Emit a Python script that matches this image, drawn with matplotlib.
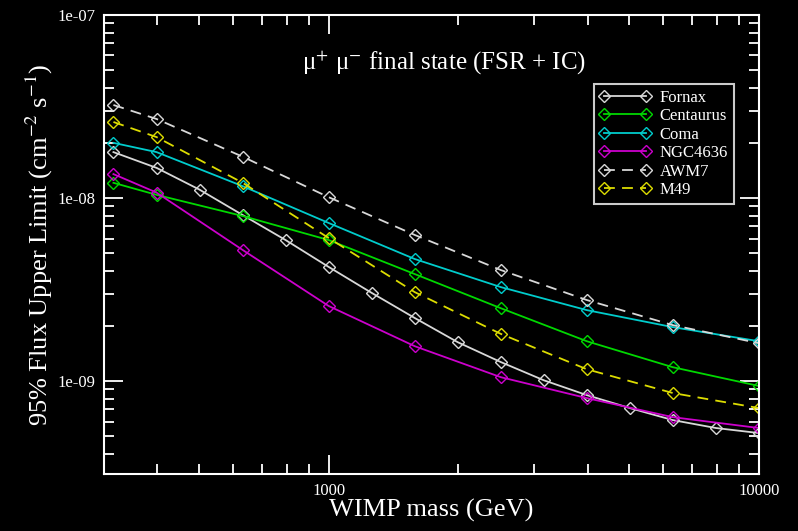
import numpy as np
import matplotlib
matplotlib.use("Agg")
import matplotlib.pyplot as plt
from matplotlib.ticker import LogLocator, NullFormatter, FixedLocator, FixedFormatter

plt.rcParams['font.family'] = ['Liberation Serif', 'DejaVu Serif']
plt.rcParams['mathtext.fontset'] = 'stix'

# WIMP masses (GeV)
mass_fine = [316, 398, 501, 631, 794, 1000, 1259, 1585, 1995, 2512,
             3162, 3981, 5012, 6310, 7943, 10000]
mass_coarse = [316, 398, 631, 1000, 1585, 2512, 3981, 6310, 10000]

# flux upper limits (cm^-2 s^-1)
fornax = [1.78e-8, 1.46e-8, 1.11e-8, 8.07e-9, 5.89e-9, 4.20e-9, 3.03e-9, 2.21e-9,
          1.63e-9, 1.27e-9, 1.01e-9, 8.38e-10, 7.12e-10, 6.12e-10, 5.54e-10, 5.20e-10]
centaurus = [1.21e-8, 1.04e-8, 7.97e-9, 5.89e-9, 3.84e-9, 2.50e-9, 1.65e-9, 1.19e-9, 9.40e-10]
coma = [2.00e-8, 1.78e-8, 1.16e-8, 7.30e-9, 4.64e-9, 3.26e-9, 2.44e-9, 1.97e-9, 1.65e-9]
ngc4636 = [1.35e-8, 1.07e-8, 5.20e-9, 2.57e-9, 1.55e-9, 1.05e-9, 8.07e-10, 6.35e-10, 5.54e-10]
awm7 = [3.22e-8, 2.70e-8, 1.68e-8, 1.01e-8, 6.28e-9, 4.04e-9, 2.77e-9, 2.02e-9, 1.61e-9]
m49 = [2.60e-8, 2.15e-8, 1.21e-8, 6.04e-9, 3.06e-9, 1.81e-9, 1.16e-9, 8.60e-10, 7.12e-10]

series = [
    ("Fornax", mass_fine, fornax, "#d8d8d8", "-"),
    ("Centaurus", mass_coarse, centaurus, "#00d800", "-"),
    ("Coma", mass_coarse, coma, "#00cccc", "-"),
    ("NGC4636", mass_coarse, ngc4636, "#cc00cc", "-"),
    ("AWM7", mass_coarse, awm7, "#d8d8d8", (0, (6, 4))),
    ("M49", mass_coarse, m49, "#dcdc00", (0, (6, 4))),
]

fig = plt.figure(figsize=(7.98, 5.31), dpi=100, facecolor="black")
ax = fig.add_axes([0.130, 0.107, 0.821, 0.865], facecolor="black")

for name, x, y, c, ls in series:
    ax.plot(x, y, color=c, linestyle=ls, lw=1.3, marker="D", ms=6,
            mfc="none", mec=c, mew=1.0, label=name)

ax.set_xscale("log")
ax.set_yscale("log")
ax.set_xlim(300, 10000)
ax.set_ylim(3.1e-10, 1e-7)

for s in ax.spines.values():
    s.set_color("white")
    s.set_linewidth(1.5)

ax.xaxis.set_major_locator(FixedLocator([1000, 10000]))
ax.xaxis.set_major_formatter(FixedFormatter(["1000", "10000"]))
ax.xaxis.set_minor_locator(LogLocator(base=10, subs=np.arange(2, 10)))
ax.xaxis.set_minor_formatter(NullFormatter())
ax.yaxis.set_major_locator(FixedLocator([1e-9, 1e-8, 1e-7]))
ax.yaxis.set_major_formatter(FixedFormatter(["1e-09", "1e-08", "1e-07"]))
ax.yaxis.set_minor_locator(LogLocator(base=10, subs=np.arange(2, 10)))
ax.yaxis.set_minor_formatter(NullFormatter())

ax.tick_params(which="both", direction="in", colors="white", top=True, right=True,
               labelsize=12, width=1.3)
ax.tick_params(which="major", length=14, pad=6)
ax.tick_params(which="minor", length=7)

ax.set_xlabel("WIMP mass (GeV)", color="white", fontsize=19, labelpad=0)
ax.set_ylabel("95% Flux Upper Limit (cm$^{-2}$ s$^{-1}$)", color="white",
              fontsize=19, labelpad=2)

ax.text(0.52, 0.895, "μ$^{+}$ μ$^{-}$ final state (FSR + IC)", transform=ax.transAxes,
        ha="center", va="center", color="white", fontsize=18)

leg = ax.legend(loc="upper right", bbox_to_anchor=(0.9615, 0.85), fontsize=12,
                frameon=True, fancybox=False, facecolor="black", edgecolor="white",
                numpoints=2, handlelength=3.1, labelspacing=0.15, borderpad=0.35,
                handletextpad=0.5, borderaxespad=0)
leg.get_frame().set_linewidth(1.5)
for t in leg.get_texts():
    t.set_color("white")

fig.savefig("out.png", dpi=100, facecolor="black")
